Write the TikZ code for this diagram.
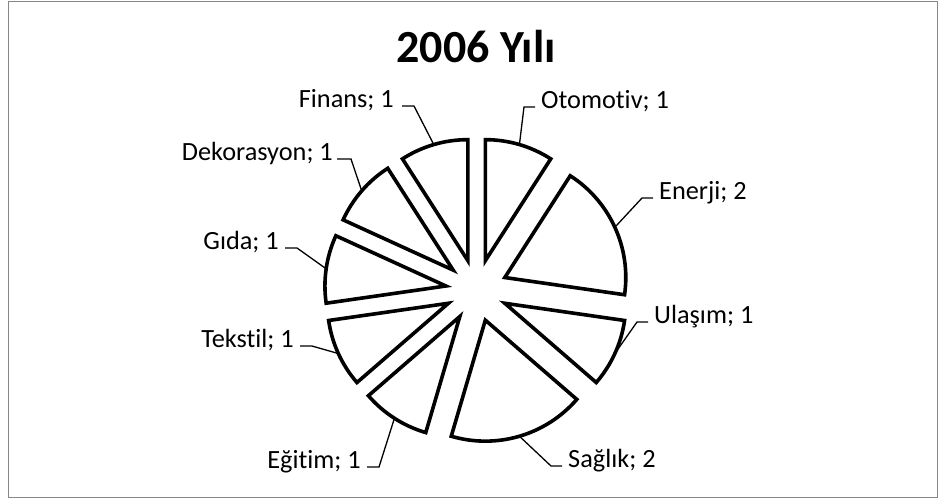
\documentclass[tikz,border=0pt]{standalone}
\usepackage{fontspec}
\setmainfont[Ligatures=NoCommon]{Carlito}
\definecolor{framegray}{HTML}{878787}
\begin{document}
\begin{tikzpicture}[x=1pt,y=1pt,
  slice/.style={draw=black, line width=3.6pt, fill=white, line join=miter},
  leader/.style={draw=black, line width=1.3pt},
  lbl/.style={inner sep=0pt, font=\fontsize{26.3}{30}\selectfont},
  ttl/.style={inner sep=0pt, font=\bfseries\fontsize{46}{50}\selectfont},
]
\useasboundingbox (0,0) rectangle (940,-499);
% outer chart frame
\draw[framegray, line width=1.4pt] (8.7,-1.7) rectangle (937.3,-497.6);

% title
\node[ttl, anchor=base] (title) at (476,-62) {2006 Yılı};

% exploded pie: 11 units, clockwise from 12 o'clock
\coordinate (C) at (476.6,-290.4);
\foreach \a/\b/\m in {90/57.2727/73.6364, 57.2727/-8.1818/24.5455,
  -8.1818/-40.9091/-24.5455, -40.9091/-106.3636/-73.6364,
  -106.3636/-139.0909/-122.7273, -139.0909/-171.8182/-155.4545,
  -171.8182/-204.5455/-188.1818, -204.5455/-237.2727/-220.9091,
  -237.2727/-270/-253.6364}
  \draw[slice] ([shift={(\m:31)}]C) -- ++(\a:121)
    arc[start angle=\a, end angle=\b, radius=121] -- cycle;

% points on the outer arcs where leaders attach
\coordinate (poto) at ([shift={(73.6364:152)}]C);
\coordinate (pene) at ([shift={(24.5455:152)}]C);
\coordinate (pula) at ([shift={(-24.5455:152)}]C);
\coordinate (psag) at ([shift={(-73.6364:152)}]C);
\coordinate (pegi) at ([shift={(-122.7273:152)}]C);
\coordinate (ptek) at ([shift={(-155.4545:152)}]C);
\coordinate (pgid) at ([shift={(-188.1818:152)}]C);
\coordinate (pdek) at ([shift={(-220.9091:152)}]C);
\coordinate (pfin) at ([shift={(-253.6364:152)}]C);

% data labels
\node[lbl, anchor=base west] (oto) at (541,-108) {Otomotiv; 1};
\node[lbl, anchor=base west] (ene) at (659,-199) {Enerji; 2};
\node[lbl, anchor=base west] (ula) at (654,-323) {Ulaşım; 1};
\node[lbl, anchor=base west] (sag) at (568,-467) {Sağlık; 2};
\node[lbl, anchor=base east] (egi) at (361,-468) {Eğitim; 1};
\node[lbl, anchor=base east] (tek) at (294,-347) {Tekstil; 1};
\node[lbl, anchor=base east] (gid) at (279,-249) {Gıda; 1};
\node[lbl, anchor=base east] (dek) at (333,-160) {Dekorasyon; 1};
\node[lbl, anchor=base east] (fin) at (394,-107) {Finans; 1};

% leader lines
\draw[leader] ([shift={(-6,1)}]oto.base west) -- ++(-11,0) -- (poto);
\draw[leader] ([shift={(-6,1)}]ene.base west) -- ++(-11,0) -- (pene);
\draw[leader] ([shift={(-6,1)}]ula.base west) -- ++(-11,0) -- (pula);
\draw[leader] ([shift={(-6,1)}]sag.base west) -- ++(-11,0) -- (psag);
\draw[leader] ([shift={(6,1)}]egi.base east) -- ++(12,0) -- (pegi);
\draw[leader] ([shift={(6,1)}]tek.base east) -- ++(12,0) -- (ptek);
\draw[leader] ([shift={(6,1)}]gid.base east) -- ++(12,0) -- (pgid);
\draw[leader] ([shift={(4,1)}]dek.base east) -- ++(14,0) -- (pdek);
\draw[leader] ([shift={(8,1)}]fin.base east) -- ++(12,0) -- (pfin);
\end{tikzpicture}
\end{document}
